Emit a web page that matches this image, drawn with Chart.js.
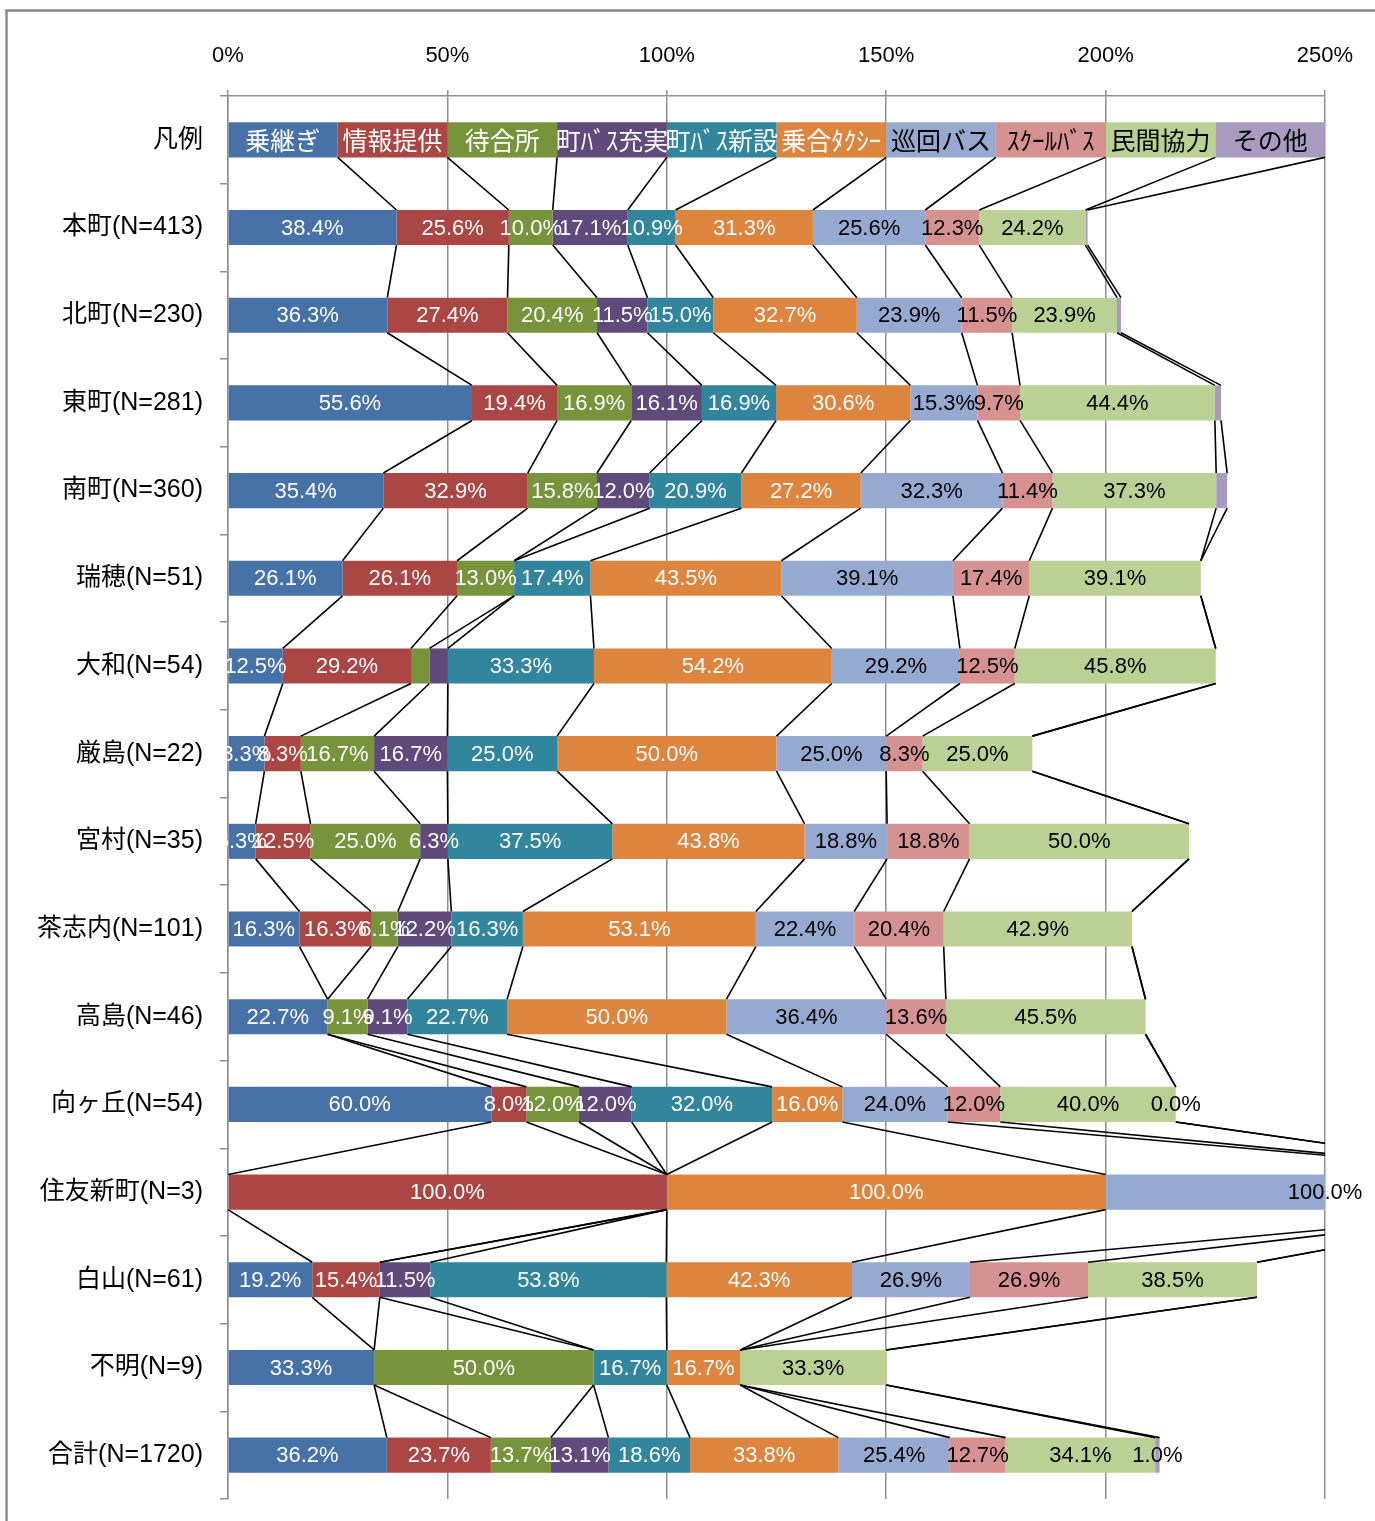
<!DOCTYPE html>
<html lang="ja">
<head>
<meta charset="utf-8">
<title>公共交通への要望</title>
<script src="https://cdn.jsdelivr.net/npm/chart.js@4.4.1/dist/chart.umd.min.js"></script>
<style>
html, body { margin: 0; padding: 0; background: #fff; }
#wrap { position: relative; width: 1375px; height: 1521px; }
</style>
</head>
<body>
<div id="wrap"><canvas id="myChart"></canvas></div>
<script>
// categories (top to bottom)
const categories = ['凡例', '本町(N=413)', '北町(N=230)', '東町(N=281)', '南町(N=360)', '瑞穂(N=51)',
    '大和(N=54)', '厳島(N=22)', '宮村(N=35)', '茶志内(N=101)', '高島(N=46)', '向ヶ丘(N=54)',
    '住友新町(N=3)', '白山(N=61)', '不明(N=9)', '合計(N=1720)'];

const seriesNames = ['乗継ぎ', '情報提供', '待合所', '町ﾊﾞｽ充実', '町ﾊﾞｽ新設', '乗合ﾀｸｼｰ', '巡回バス', 'ｽｸｰﾙﾊﾞｽ', '民間協力', 'その他'];

// values in %, one array per series, null = blank
const norikae    = [25, 38.4, 36.3, 55.6, 35.4, 26.1, 12.5, 8.3, 6.3, 16.3, 22.7, 60.0, null, 19.2, 33.3, 36.2];
const jouhou     = [25, 25.6, 27.4, 19.4, 32.9, 26.1, 29.2, 8.3, 12.5, 16.3, null, 8.0, 100.0, 15.4, null, 23.7];
const machiai    = [25, 10.0, 20.4, 16.9, 15.8, 13.0, 4.2, 16.7, 25.0, 6.1, 9.1, 12.0, null, null, 50.0, 13.7];
const busJujitsu = [25, 17.1, 11.5, 16.1, 12.0, null, 4.2, 16.7, 6.3, 12.2, 9.1, 12.0, null, 11.5, null, 13.1];
const busShinsetsu = [25, 10.9, 15.0, 16.9, 20.9, 17.4, 33.3, 25.0, 37.5, 16.3, 22.7, 32.0, null, 53.8, 16.7, 18.6];
const noriaiTaxi = [25, 31.3, 32.7, 30.6, 27.2, 43.5, 54.2, 50.0, 43.8, 53.1, 50.0, 16.0, 100.0, 42.3, 16.7, 33.8];
const junkaiBus  = [25, 25.6, 23.9, 15.3, 32.3, 39.1, 29.2, 25.0, 18.8, 22.4, 36.4, 24.0, 100.0, 26.9, null, 25.4];
const schoolBus  = [25, 12.3, 11.5, 9.7, 11.4, 17.4, 12.5, 8.3, 18.8, 20.4, 13.6, 12.0, null, 26.9, null, 12.7];
const minkan     = [25, 24.2, 23.9, 44.4, 37.3, 39.1, 45.8, 25.0, 50.0, 42.9, 45.5, 40.0, null, 38.5, 33.3, 34.1];
const sonota     = [25, 0.5, 0.9, 1.4, 2.5, null, null, null, null, null, null, 0.0, null, null, null, 1.0];

const seriesValues = [norikae, jouhou, machiai, busJujitsu, busShinsetsu, noriaiTaxi, junkaiBus, schoolBus, minkan, sonota];

// segments without a data label ("row:series")
const hiddenLabels = ['1:9', '2:9', '3:9', '4:9', '6:2', '6:3'];

const xTicks = [0, 50, 100, 150, 200, 250];

const colors = ['#4672a8', '#aa4643', '#77933c', '#604a7b', '#31859c', '#dd843f', '#95a9d1', '#d59291', '#bad094', '#a99bc0'];
const textColors = ['#fff', '#fff', '#fff', '#fff', '#fff', '#fff', '#000', '#000', '#000', '#000'];

const BAR_PCT = 0.4;
const latin = '"Liberation Sans", "Noto Sans CJK JP", sans-serif';
const jp = '"Noto Sans CJK JP", sans-serif';

// gray chart frame (left and top edge visible)
const frame = {
    id: 'frame',
    beforeDraw(chart) {
        const ctx = chart.ctx;
        ctx.save();
        ctx.fillStyle = '#fff';
        ctx.fillRect(0, 0, chart.width, chart.height);
        ctx.strokeStyle = '#8a8a8a';
        ctx.lineWidth = 2.5;
        ctx.beginPath();
        ctx.moveTo(6.5, chart.height + 5);
        ctx.lineTo(6.5, 10.5);
        ctx.lineTo(chart.width + 5, 10.5);
        ctx.stroke();
        ctx.restore();
    }
};

// excel style series lines between neighbouring bars
const seriesLines = {
    id: 'seriesLines',
    afterDatasetsDraw(chart) {
        const ctx = chart.ctx;
        const xs = chart.scales.x, ys = chart.scales.y;
        const area = chart.chartArea;
        const half = (ys.getPixelForValue(1) - ys.getPixelForValue(0)) * BAR_PCT / 2;
        ctx.save();
        ctx.beginPath();
        ctx.rect(area.left, area.top, area.right - area.left, area.bottom - area.top);
        ctx.clip();
        ctx.strokeStyle = '#000';
        ctx.lineWidth = 1.6;
        for (let r = 0; r < categories.length - 1; r++) {
            const y1 = ys.getPixelForValue(r) + half;
            const y2 = ys.getPixelForValue(r + 1) - half;
            let a = 0, b = 0;
            seriesValues.forEach(vals => {
                a += vals[r] || 0;
                b += vals[r + 1] || 0;
                ctx.beginPath();
                ctx.moveTo(xs.getPixelForValue(a), y1);
                ctx.lineTo(xs.getPixelForValue(b), y2);
                ctx.stroke();
            });
        }
        ctx.restore();
    }
};

// labels in the middle of each segment
const segLabels = {
    id: 'segLabels',
    afterDatasetsDraw(chart) {
        const ctx = chart.ctx;
        const xs = chart.scales.x, ys = chart.scales.y;
        ctx.save();
        ctx.textAlign = 'center';
        ctx.textBaseline = 'middle';
        for (let r = 0; r < categories.length; r++) {
            let cum = 0;
            seriesValues.forEach((vals, s) => {
                const v = vals[r];
                if (v === null || v === undefined) return;
                const start = cum;
                cum += v;
                if (hiddenLabels.includes(r + ':' + s)) return;
                const cx = xs.getPixelForValue((start + cum) / 2);
                const cy = ys.getPixelForValue(r);
                ctx.fillStyle = textColors[s];
                if (r === 0) {
                    ctx.font = '25px ' + jp;
                    ctx.fillText(seriesNames[s], cx, cy + 1);
                } else {
                    ctx.font = '22px ' + latin;
                    ctx.fillText(v.toFixed(1) + '%', cx, cy + 1);
                }
            });
        }
        ctx.restore();
    }
};

const data = {
    labels: categories,
    datasets: seriesValues.map((vals, i) => ({
        label: seriesNames[i],
        data: vals,
        backgroundColor: colors[i],
        borderWidth: 0,
        categoryPercentage: BAR_PCT,
        barPercentage: 1,
        clip: 0
    }))
};

const config = {
    type: 'bar',
    data: data,
    options: {
        indexAxis: 'y',
        responsive: true,
        maintainAspectRatio: false,
        animation: false,
        layout: { padding: { top: 0, right: 50, bottom: 22, left: 0 } },
        plugins: {
            legend: { display: false },
            tooltip: { enabled: false }
        },
        scales: {
            x: {
                position: 'top',
                stacked: true,
                min: 0,
                max: 250,
                afterBuildTicks: s => { s.ticks = xTicks.map(v => ({ value: v })); },
                afterFit: s => { s.height = 96; },
                ticks: {
                    callback: v => v + '%',
                    color: '#000',
                    padding: 21,
                    maxRotation: 0,
                    font: { family: latin, size: 22 }
                },
                grid: { color: '#8f8f8f', lineWidth: 1.5, tickLength: 6, drawTicks: true },
                border: { color: '#8f8f8f', width: 1.5 }
            },
            y: {
                stacked: true,
                afterFit: s => {
                    s.width = 228;
                    s.paddingTop = 0;
                    s.paddingBottom = 0;
                },
                ticks: {
                    color: '#000',
                    padding: 17,
                    font: { family: latin, size: 25 }
                },
                grid: { drawOnChartArea: false, drawTicks: true, tickLength: 8, color: '#8f8f8f', lineWidth: 1.5, offset: true },
                border: { color: '#8f8f8f', width: 1.5 }
            }
        }
    },
    plugins: [frame, seriesLines, segLabels]
};

const myChart = new Chart(document.getElementById('myChart'), config);
</script>
</body>
</html>
